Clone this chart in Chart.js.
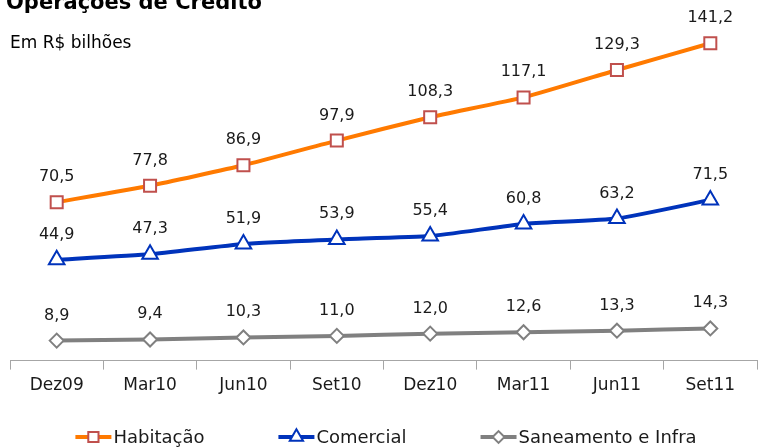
<!DOCTYPE html>
<html lang="pt">
<head>
<meta charset="UTF-8">
<title>Operações de Crédito</title>
<script src="https://cdn.jsdelivr.net/npm/chart.js"></script>
<style>
  html, body { margin: 0; padding: 0; background: #fff; }
  #wrap { width: 758px; height: 448px; position: relative; }
</style>
</head>
<body>
<div id="wrap"><canvas id="myChart" width="758" height="448"></canvas></div>
<script>
const labels = ['Dez09', 'Mar10', 'Jun10', 'Set10', 'Dez10', 'Mar11', 'Jun11', 'Set11'];
const habitacao = [70.5, 77.8, 86.9, 97.9, 108.3, 117.1, 129.3, 141.2];
const comercial = [44.9, 47.3, 51.9, 53.9, 55.4, 60.8, 63.2, 71.5];
const saneamento = [8.9, 9.4, 10.3, 11.0, 12.0, 12.6, 13.3, 14.3];

const FONT = '"DejaVu Sans", sans-serif';

// rótulos de valor acima de cada ponto
const valueLabels = {
  id: 'valueLabels',
  afterDatasetsDraw(chart) {
    const ctx = chart.ctx;
    ctx.save();
    ctx.font = '16px ' + FONT;
    ctx.fillStyle = '#1a1a1a';
    ctx.textAlign = 'center';
    ctx.textBaseline = 'alphabetic';
    chart.data.datasets.forEach((ds, i) => {
      chart.getDatasetMeta(i).data.forEach((pt, j) => {
        ctx.fillText(ds.data[j].toFixed(1).replace('.', ','), pt.x, pt.y - 21);
      });
    });
    ctx.restore();
  }
};

// título, subtítulo e legenda com linha + marcador
const extras = {
  id: 'extras',
  afterDraw(chart) {
    const ctx = chart.ctx;
    ctx.save();
    ctx.fillStyle = '#000';
    ctx.textAlign = 'left';
    ctx.textBaseline = 'alphabetic';
    ctx.font = 'bold 21px ' + FONT;
    ctx.fillText('Operações de Crédito', 6, 9);
    ctx.font = '17px ' + FONT;
    ctx.fillText('Em R$ bilhões', 10, 48);

    ctx.font = '18px ' + FONT;
    const y = 437, lineW = 36, gap = 74;
    const items = chart.data.datasets.map(ds => ({ ds, w: lineW + 2 + ctx.measureText(ds.label).width }));
    const total = items.reduce((s, it) => s + it.w, 0) + gap * (items.length - 1);
    let x = 386 - total / 2;
    items.forEach(({ ds, w }) => {
      ctx.strokeStyle = ds.borderColor;
      ctx.lineWidth = 4;
      ctx.beginPath();
      ctx.moveTo(x, y);
      ctx.lineTo(x + lineW, y);
      ctx.stroke();
      ctx.fillStyle = '#fff';
      ctx.strokeStyle = ds.pointBorderColor;
      ctx.lineWidth = 2;
      Chart.helpers.drawPoint(ctx, { pointStyle: ds.pointStyle, radius: ds.pointRadius * 0.85, borderWidth: 2 }, x + lineW / 2, y);
      ctx.fillStyle = '#1a1a1a';
      ctx.textBaseline = 'middle';
      ctx.fillText(ds.label, x + lineW + 2, y + 1);
      x += w + gap;
    });
    ctx.restore();
  }
};

new Chart(document.getElementById('myChart'), {
  type: 'line',
  data: {
    labels: labels,
    datasets: [{
      label: 'Habitação',
      data: habitacao,
      borderColor: '#FF7A00',
      borderWidth: 4,
      pointStyle: 'rect',
      pointRadius: 8.5,
      pointBorderColor: '#C0504D',
      pointBackgroundColor: '#fff',
      pointBorderWidth: 2,
      tension: 0.15
    }, {
      label: 'Comercial',
      data: comercial,
      borderColor: '#0033BB',
      borderWidth: 4,
      pointStyle: 'triangle',
      pointRadius: 9,
      pointBorderColor: '#0033BB',
      pointBackgroundColor: '#fff',
      pointBorderWidth: 2,
      tension: 0.15
    }, {
      label: 'Saneamento e Infra',
      data: saneamento,
      borderColor: '#808080',
      borderWidth: 4,
      pointStyle: 'rectRot',
      pointRadius: 7,
      pointBorderColor: '#808080',
      pointBackgroundColor: '#fff',
      pointBorderWidth: 2,
      tension: 0.15
    }]
  },
  options: {
    responsive: false,
    animation: false,
    layout: { autoPadding: false, padding: { left: 10, right: 1, top: 1, bottom: 46 } },
    plugins: { legend: { display: false }, tooltip: { enabled: false } },
    scales: {
      x: {
        offset: true,
        border: { color: '#A6A6A6', width: 1 },
        grid: { offset: true, drawOnChartArea: false, tickLength: 9, color: '#A6A6A6' },
        ticks: { color: '#1a1a1a', font: { family: FONT, size: 17 }, padding: 6, maxRotation: 0 }
      },
      y: { display: false, min: 0, max: 160 }
    }
  },
  plugins: [valueLabels, extras]
});
</script>
</body>
</html>
